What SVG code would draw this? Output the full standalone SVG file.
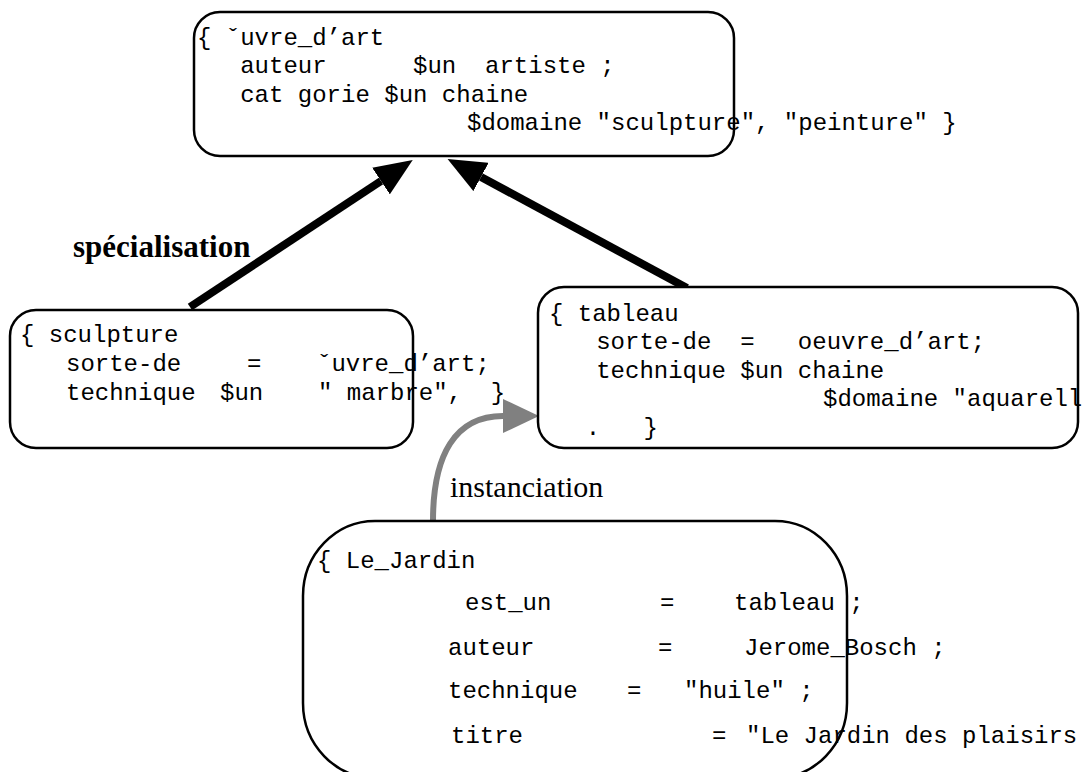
<svg xmlns="http://www.w3.org/2000/svg" width="1092" height="772" viewBox="0 0 1092 772">
<defs>
<style>
.box{fill:#ffffff;stroke:#000000;stroke-width:2.5}
.mono{font-family:"Liberation Mono","Courier New",monospace;font-size:24px;fill:#000000;white-space:pre}
.spec{font-family:"Liberation Serif","Times New Roman",serif;font-size:31px;font-weight:bold;fill:#000000}
.inst{font-family:"Liberation Serif","Times New Roman",serif;font-size:30px;fill:#000000}
.gen{fill:none;stroke:#000000;stroke-width:8}
.inst-line{fill:none;stroke:#808080;stroke-width:6}
</style>
<marker id="arrBlack" markerUnits="userSpaceOnUse" viewBox="0 0 38 32" refX="0" refY="16" markerWidth="38" markerHeight="32" orient="auto">
<path d="M0,0 L38,16 L0,32 z" fill="#000000"/>
</marker>
<marker id="arrGray" markerUnits="userSpaceOnUse" viewBox="0 0 36 34" refX="0" refY="17" markerWidth="36" markerHeight="34" orient="auto">
<path d="M0,0 L36,17 L0,34 z" fill="#808080"/>
</marker>
</defs>
<rect width="1092" height="772" fill="#ffffff"/>

<g id="connectors">
<line class="gen" x1="190" y1="307" x2="381" y2="181" marker-end="url(#arrBlack)"/>
<line class="gen" x1="687" y1="288" x2="481" y2="177" marker-end="url(#arrBlack)"/>
<path class="inst-line" d="M433,521 C433,455 455,416 503,416" marker-end="url(#arrGray)"/>
<text class="spec" x="73" y="257">spécialisation</text>
<text class="inst" x="450" y="497">instanciation</text>
</g>

<g id="oeuvre_d_art">
<rect class="box" x="194" y="12" width="540" height="144" rx="26" ry="26"/>
<text class="mono" x="197" y="45">{ ˇuvre_d’art</text>
<text class="mono" x="197" y="73">   auteur      $un  artiste ;</text>
<text class="mono" x="197" y="102">   cat gorie $un chaine</text>
<text class="mono" x="467" y="130">$domaine "sculpture", "peinture" }</text>
</g>

<g id="sculpture">
<rect class="box" x="10" y="310" width="403" height="138" rx="26" ry="26"/>
<text class="mono" x="20" y="342">{ sculpture</text>
<text class="mono" y="371"><tspan x="66">sorte-de </tspan><tspan x="247">= </tspan><tspan x="317">ˇuvre_d’art;</tspan></text>
<text class="mono" y="400"><tspan x="66">technique </tspan><tspan x="220">$un </tspan><tspan x="318">" marbre",  }</tspan></text>
</g>

<g id="tableau">
<rect class="box" x="538" y="287" width="540" height="161" rx="26" ry="26"/>
<text class="mono" x="549" y="321">{ tableau</text>
<text class="mono" x="553" y="349">   sorte-de  =   oeuvre_d’art;</text>
<text class="mono" x="553" y="378">   technique $un chaine</text>
<text class="mono" x="823" y="406">$domaine "aquarell</text>
<text class="mono" x="557" y="435">  .   }</text>
</g>

<g id="le_jardin">
<rect class="box" x="303" y="521" width="544" height="257" rx="72" ry="75"/>
<text class="mono" x="317" y="568">{ Le_Jardin</text>
<text class="mono" y="610"><tspan x="465">est_un </tspan><tspan x="660">= </tspan><tspan x="734">tableau ;</tspan></text>
<text class="mono" y="655"><tspan x="448">auteur </tspan><tspan x="658">= </tspan><tspan x="744">Jerome_Bosch ;</tspan></text>
<text class="mono" y="698"><tspan x="448">technique </tspan><tspan x="627">= </tspan><tspan x="684">"huile" ;</tspan></text>
<text class="mono" y="743"><tspan x="451">titre </tspan><tspan x="712">= </tspan><tspan x="746">"Le Jardin des plaisirs</tspan></text>
</g>
</svg>
